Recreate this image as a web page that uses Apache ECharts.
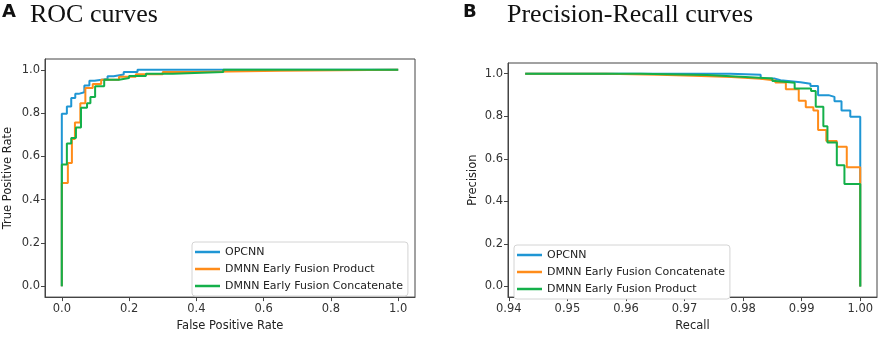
<!DOCTYPE html>
<html>
<head>
<meta charset="utf-8">
<script src="https://cdn.jsdelivr.net/npm/echarts@6/dist/echarts.min.js"></script>
<style>
  html, body { margin: 0; padding: 0; background: #fff; }
  #chart-container { width: 879px; height: 337px; }
</style>
</head>
<body>
<div id="chart-container"></div>
<script>
// ROC corners [fpr, tpr]
var rocOpcnn = [[0,0],[0,0.797],[0.015,0.797],[0.015,0.83],[0.028,0.83],[0.028,0.87],[0.04,0.87],[0.04,0.889],
  [0.05,0.889],[0.05,0.896],[0.067,0.896],[0.067,0.927],[0.082,0.927],[0.082,0.95],[0.097,0.95],[0.097,0.958],
  [0.136,0.958],[0.136,0.97],[0.154,0.97],[0.154,0.978],[0.184,0.978],[0.184,0.99],[0.225,0.99],[0.225,1],[1,1]];
var rocProduct = [[0,0],[0,0.477],[0.018,0.477],[0.018,0.569],[0.03,0.569],[0.03,0.68],[0.039,0.68],[0.039,0.757],
  [0.055,0.757],[0.055,0.845],[0.07,0.845],[0.07,0.916],[0.092,0.916],[0.092,0.935],[0.117,0.935],[0.117,0.954],
  [0.17,0.954],[0.17,0.968],[0.22,0.968],[0.22,0.98],[0.3,0.98],[0.3,0.99],[0.4,0.99],[0.4,0.996],[0.65,0.996],
  [0.65,1],[1,1]];
var rocConcat = [[0,0],[0,0.563],[0.015,0.563],[0.015,0.66],[0.028,0.66],[0.028,0.685],[0.042,0.685],[0.042,0.734],
  [0.057,0.734],[0.057,0.825],[0.075,0.825],[0.075,0.845],[0.085,0.845],[0.085,0.874],[0.099,0.874],[0.099,0.924],
  [0.126,0.924],[0.126,0.954],[0.17,0.954],[0.17,0.962],[0.2,0.962],[0.2,0.972],[0.25,0.972],[0.25,0.982],
  [0.33,0.982],[0.33,0.99],[0.48,0.99],[0.48,1],[1,1]];

// PR corners [recall, precision]
var prOpcnn = [[0.9428,1],[0.9778,1],[0.9778,0.995],[0.983,0.995],[0.983,0.977],[0.9853,0.977],[0.9853,0.969],
  [0.9864,0.969],[0.9864,0.96],[0.9898,0.96],[0.9898,0.953],[0.9915,0.953],[0.9915,0.942],[0.9928,0.942],
  [0.9928,0.899],[0.9946,0.899],[0.9946,0.891],[0.9956,0.891],[0.9956,0.87],[0.9968,0.87],[0.9968,0.827],
  [0.9983,0.827],[0.9983,0.797],[1,0.797],[1,0]];
var prConcat = [[0.9428,1],[0.9567,1],[0.9567,0.995],[0.9656,0.995],[0.9656,0.99],[0.9715,0.99],[0.9715,0.984],
  [0.978,0.984],[0.978,0.976],[0.983,0.976],[0.983,0.968],[0.9855,0.968],[0.9855,0.958],[0.9873,0.958],
  [0.9873,0.927],[0.9895,0.927],[0.9895,0.873],[0.9907,0.873],[0.9907,0.842],[0.992,0.842],[0.992,0.827],
  [0.9928,0.827],[0.9928,0.735],[0.9942,0.735],[0.9942,0.684],[0.996,0.684],[0.996,0.657],[0.9977,0.657],
  [0.9977,0.56],[1,0.56],[1,0]];
var prProduct = [[0.9428,1],[0.9625,1],[0.9625,0.994],[0.9738,0.994],[0.9738,0.985],[0.9796,0.985],[0.9796,0.977],
  [0.985,0.977],[0.985,0.965],[0.9855,0.965],[0.9855,0.957],[0.9888,0.957],[0.9888,0.93],[0.9916,0.93],
  [0.9916,0.918],[0.9924,0.918],[0.9924,0.845],[0.9937,0.845],[0.9937,0.753],[0.9944,0.753],[0.9944,0.677],
  [0.996,0.677],[0.996,0.57],[0.9973,0.57],[0.9973,0.482],[1,0.482],[1,0]];

var rocTicks = [0, 0.2, 0.4, 0.6, 0.8, 1.0];
var recallTicks = [0.94, 0.95, 0.96, 0.97, 0.98, 0.99, 1.00];
var rateTicks = [0, 0.2, 0.4, 0.6, 0.8, 1.0];

var names = ['OPCNN', 'DMNN Early Fusion Product', 'DMNN Early Fusion Concatenate'];
var blue = '#1f96d4', orange = '#ff8c1a', green = '#14b04a';

var dom = document.getElementById('chart-container');
var myChart = echarts.init(dom, null, { renderer: 'canvas' });

var font = 'DejaVu Sans';
var tickColor = '#333';
var frame = '#444';

function valAxis(idx, min, max, ticks, digits, name, gap, isX) {
  return {
    type: 'value', gridIndex: idx, min: min, max: max,
    name: name, nameLocation: 'middle', nameGap: gap,
    nameTextStyle: { fontFamily: font, fontSize: 11.5, color: '#222' },
    axisLine: { show: true, onZero: false, lineStyle: { color: frame, width: 1 } },
    axisTick: { show: true, length: 4, customValues: ticks, lineStyle: { color: frame } },
    axisLabel: {
      customValues: ticks, margin: isX ? 6 : 5,
      fontFamily: font, fontSize: 11.5, color: tickColor,
      formatter: function (v) { return v.toFixed(digits); }
    },
    splitLine: { show: false }
  };
}

function line(name, data, color, idx) {
  return {
    name: name, type: 'line', data: data, xAxisIndex: idx, yAxisIndex: idx,
    showSymbol: false, symbol: 'none', lineStyle: { width: 2, color: color },
    itemStyle: { color: color }
  };
}

var legendBase = {
  orient: 'vertical', icon: 'rect', itemWidth: 25, itemHeight: 2.5, itemGap: 3,
  padding: [3, 5, 3, 3], backgroundColor: '#fff', borderColor: '#d4d4d4', borderWidth: 1, borderRadius: 3,
  textStyle: { fontFamily: font, fontSize: 11, color: '#222', lineHeight: 14 },
  selectedMode: false
};

var option = {
  animation: false,
  title: [
    { text: 'A', left: 2, top: 3, padding: 0, textStyle: { fontFamily: 'DejaVu Sans', fontWeight: 'bold', fontSize: 18, color: '#111' } },
    { text: 'ROC curves', left: 30, top: 2, padding: 0, textStyle: { fontFamily: 'Liberation Serif', fontWeight: 'normal', fontSize: 26, color: '#111' } },
    { text: 'B', left: 463, top: 3, padding: 0, textStyle: { fontFamily: 'DejaVu Sans', fontWeight: 'bold', fontSize: 18, color: '#111' } },
    { text: 'Precision-Recall curves', left: 507, top: 2, padding: 0, textStyle: { fontFamily: 'Liberation Serif', fontWeight: 'normal', fontSize: 26, color: '#111' } }
  ],
  grid: [
    { left: 45, right: 464, top: 59, bottom: 37, show: true, borderColor: frame, borderWidth: 1 },
    { left: 508, right: 2, top: 63, bottom: 35, show: true, borderColor: frame, borderWidth: 1 }
  ],
  xAxis: [
    valAxis(0, -0.05, 1.05, rocTicks, 1, 'False Positive Rate', 22, true),
    valAxis(1, 0.93986, 1.00286, recallTicks, 2, 'Recall', 22, true)
  ],
  yAxis: [
    valAxis(0, -0.05, 1.05, rateTicks, 1, 'True Positive Rate', 31, false),
    valAxis(1, -0.05, 1.05, rateTicks, 1, 'Precision', 29, false)
  ],
  legend: [
    Object.assign({}, legendBase, {
      left: 192, top: 242,
      data: [
        { name: names[0], itemStyle: { color: blue } },
        { name: names[1], itemStyle: { color: orange } },
        { name: names[2], itemStyle: { color: green } }
      ]
    }),
    Object.assign({}, legendBase, {
      left: 514, top: 245,
      data: [
        { name: names[0], itemStyle: { color: blue } },
        { name: names[2], itemStyle: { color: orange } },
        { name: names[1], itemStyle: { color: green } }
      ]
    })
  ],
  series: [
    line(names[0], rocOpcnn, blue, 0),
    line(names[1], rocProduct, orange, 0),
    line(names[2], rocConcat, green, 0),
    line(names[0], prOpcnn, blue, 1),
    line(names[2], prConcat, orange, 1),
    line(names[1], prProduct, green, 1)
  ]
};

myChart.setOption(option);
window.addEventListener('resize', myChart.resize);
</script>
</body>
</html>
